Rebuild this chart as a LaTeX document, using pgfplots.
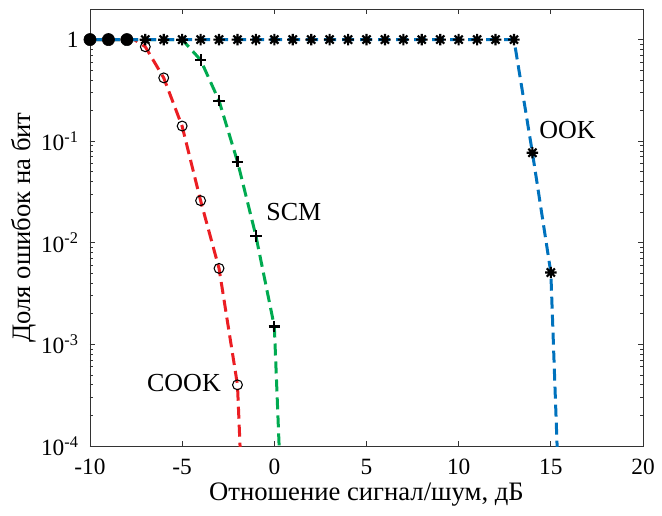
\documentclass[border=0pt]{standalone}
\usepackage{fontspec}
\setmainfont{Liberation Serif}
\usepackage{pgfplots}
\pgfplotsset{compat=1.18}
\definecolor{mblue}{rgb}{0,0.447,0.741}
\definecolor{mred}{RGB}{235,30,35}
\definecolor{mgreen}{RGB}{0,170,80}
\pgfdeclareplotmark{mstar}{%
  \pgfpathmoveto{\pgfqpoint{-\pgfplotmarksize}{0pt}}\pgfpathlineto{\pgfqpoint{\pgfplotmarksize}{0pt}}%
  \pgfpathmoveto{\pgfqpoint{0pt}{-\pgfplotmarksize}}\pgfpathlineto{\pgfqpoint{0pt}{\pgfplotmarksize}}%
  \pgfpathmoveto{\pgfqpoint{-0.707\pgfplotmarksize}{-0.707\pgfplotmarksize}}\pgfpathlineto{\pgfqpoint{0.707\pgfplotmarksize}{0.707\pgfplotmarksize}}%
  \pgfpathmoveto{\pgfqpoint{-0.707\pgfplotmarksize}{0.707\pgfplotmarksize}}\pgfpathlineto{\pgfqpoint{0.707\pgfplotmarksize}{-0.707\pgfplotmarksize}}%
  \pgfusepathqstroke}
\begin{document}
\begin{tikzpicture}
\begin{axis}[
  scale only axis, width=414.75pt, height=327.75pt,
  xmin=-10, xmax=20, ymode=log, ymin=1e-4, ymax=2,
  xtick={-10,-5,0,5,10,15,20},
  xticklabels={-10,-5,0,5,10,15,20},
  ytick={1e-4,1e-3,1e-2,1e-1,1},
  yticklabels={10\textsuperscript{-4},10\textsuperscript{-3},10\textsuperscript{-2},10\textsuperscript{-1},1},
  tick align=inside,
  major tick length=3.75pt, minor tick length=2.25pt,
  axis line style={draw=black!80, line width=0.7pt},
  every tick/.style={draw=black!80, line width=0.7pt},
  ticklabel style={font=\fontsize{17.5}{20}\selectfont},
  yticklabel style={xshift=-5pt},
  xticklabel style={yshift=-6pt},
  xlabel={Отношение сигнал/шум, дБ},
  ylabel={Доля ошибок на бит},
  label style={font=\fontsize{20}{23}\selectfont},
  xlabel style={at={(axis description cs:0.5,-0.112)}, anchor=center},
  ylabel style={at={(axis description cs:-0.12,0.5)}, anchor=center, rotate=0},
  clip=true,
]
% dashed curves
\addplot[mred, line width=2.25pt, dash pattern=on 9pt off 4.5pt] coordinates {
  (-10,1) (-7.6,1) (-7,0.85) (-6,0.42) (-5,0.14) (-4,0.026) (-3,0.0056) (-2,4.0e-4) (-1.86,1e-4) (-1.83,5e-5)};
\addplot[mgreen, line width=2.25pt, dash pattern=on 9pt off 4.5pt] coordinates {
  (-10,1) (-5,1) (-4,0.63) (-3,0.25) (-2,0.063) (-1,0.0117) (0,0.0015) (0.26,1e-4) (0.28,5e-5)};
\addplot[mblue, line width=2.25pt, dash pattern=on 9pt off 4.5pt] coordinates {
  (-10,1) (13,1) (14,0.077) (15,0.0051) (15.34,1e-4) (15.37,5e-5)};
% markers
\addplot[only marks, mark=o, mark size=3.7pt, mark options={black, line width=0.8pt}] coordinates {
  (-7,0.85) (-6,0.42) (-5,0.141) (-4,0.026) (-3,0.0056) (-2,4.0e-4)};
\addplot[only marks, mark=+, mark size=4.3pt, mark options={black, line width=1.6pt}] coordinates {
  (-10,1) (-9,1) (-8,1) (-7,1) (-6,1) (-5,1) (-4,0.63) (-3,0.25) (-2,0.063) (-1,0.0117) (0,0.0015)};
\addplot[only marks, mark=mstar, mark size=4.3pt, mark options={black, line width=1.6pt}] coordinates {
  (-7,1) (-6,1) (-5,1) (-4,1) (-3,1) (-2,1) (-1,1) (0,1) (1,1) (2,1) (3,1) (4,1) (5,1) (6,1) (7,1) (8,1) (9,1) (10,1) (11,1) (12,1) (13,1) (14,0.077) (15,0.0051)};
\addplot[only marks, mark=*, mark size=4.6pt, mark options={black}] coordinates {
  (-10,1) (-9,1) (-8,1)};
% annotations
\node[anchor=west, inner sep=0pt, font=\fontsize{19.5}{22}\selectfont] at (axis cs:14.36,0.129) {OOK};
\node[anchor=west, inner sep=0pt, font=\fontsize{19.5}{22}\selectfont] at (axis cs:-0.45,0.0202) {SCM};
\node[anchor=east, inner sep=0pt, font=\fontsize{19.5}{22}\selectfont] at (axis cs:-2.89,4.19e-4) {COOK};
\end{axis}
\path (current axis.south west) ++(-67.5pt,-51.75pt) coordinate (bl);
\path (current axis.north east) ++(14.25pt,6.75pt) coordinate (tr);
\pgfresetboundingbox
\path[use as bounding box] (bl) rectangle (tr);
\end{tikzpicture}
\end{document}
